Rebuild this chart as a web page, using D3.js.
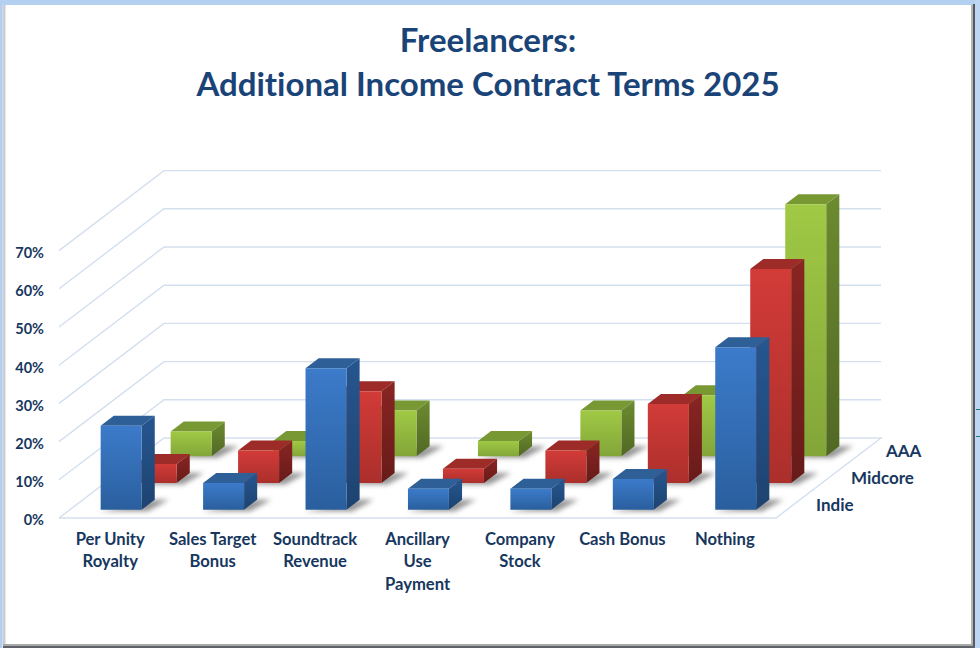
<!DOCTYPE html>
<html>
<head>
<meta charset="utf-8">
<script src="https://cdn.jsdelivr.net/npm/d3@7"></script>
<style>
  html, body { margin: 0; padding: 0; background: #fff; }
  svg { display: block; }
  text { font-family: Lato, "Open Sans", sans-serif; font-weight: 700; fill: #17375e; font-variant-ligatures: none; }
</style>
</head>
<body>
<svg width="980" height="648"></svg>
<script>
const titleLines = ['Freelancers:', 'Additional Income Contract Terms 2025'];
const categories = ['Per Unity Royalty', 'Sales Target Bonus', 'Soundtrack Revenue', 'Ancillary Use Payment', 'Company Stock', 'Cash Bonus', 'Nothing'];
const categoryLines = [['Per Unity', 'Royalty'], ['Sales Target', 'Bonus'], ['Soundtrack', 'Revenue'], ['Ancillary', 'Use', 'Payment'], ['Company', 'Stock'], ['Cash Bonus'], ['Nothing']];
const seriesNames = ['Indie', 'Midcore', 'AAA'];
const indie = [22, 7, 37, 5.5, 5.5, 8, 42.5];
const midcore = [5, 8.5, 24, 3.7, 8.5, 20.7, 56];
const aaa = [6.5, 4, 12, 4, 12, 16, 66];
const seriesValues = [indie, midcore, aaa];
const yTicks = [0, 10, 20, 30, 40, 50, 60, 70];

// front, side, top shades per series
const palette = [
  { front: ['#3c7bca', '#2a5f9e'], side: ['#265690', '#1d4370'], top: '#2e5f96' },
  { front: ['#d23b38', '#ab2f2b'], side: ['#892523', '#671b19'], top: '#9d2b28' },
  { front: ['#a0c945', '#83a539', ], side: ['#6c8b30', '#516823'], top: '#789834' }
];

const svg = d3.select('svg');
const defs = svg.append('defs');

// oblique floor: depth 0..1 shifts right and up
const floorX = 59, floorW = 717, floorY = 518, depthX = 105, depthY = 80;
const x = d3.scaleBand().domain(categories).range([floorX, floorX + floorW]).paddingInner(0.6).paddingOuter(0.3);
const depth = d3.scaleBand().domain(seriesNames).range([0, 1]).paddingInner(0.625).paddingOuter(0.3125);
const y = d3.scaleLinear().domain([0, 70]).range([floorY, 250.6]);
const proj = (px, d, v) => [px + d * depthX, y(v) - d * depthY];
const poly = pts => pts.map(p => p.join(',')).join(' ');

defs.append('filter').attr('id', 'blur').attr('x', '-30%').attr('y', '-50%').attr('width', '160%').attr('height', '200%')
  .append('feGaussianBlur').attr('stdDeviation', 2.5);

palette.forEach((p, i) => {
  ['front', 'side'].forEach(part => {
    const g = defs.append('linearGradient').attr('id', part + i).attr('x1', 0).attr('y1', 0).attr('x2', 0).attr('y2', 1);
    g.append('stop').attr('offset', 0).attr('stop-color', p[part][0]);
    g.append('stop').attr('offset', 1).attr('stop-color', p[part][1]);
  });
});

// window frame behind the chart
const frame = svg.append('g');
frame.append('rect').attr('x', 0).attr('y', 0).attr('width', 980).attr('height', 5).attr('fill', '#b3d0f0');
frame.append('rect').attr('x', 0).attr('y', 0).attr('width', 2.5).attr('height', 648).attr('fill', '#b3d0f0');
frame.append('rect').attr('x', 2.5).attr('y', 5).attr('width', 3).attr('height', 640).attr('fill', '#c9ced6');
frame.append('rect').attr('x', 975).attr('y', 0).attr('width', 5).attr('height', 648).attr('fill', '#bcd6f4');
frame.append('rect').attr('x', 971).attr('y', 5).attr('width', 2).attr('height', 643).attr('fill', '#b4b4b4');
frame.append('rect').attr('x', 973).attr('y', 4).attr('width', 2).attr('height', 644).attr('fill', '#55595f');
frame.append('rect').attr('x', 3).attr('y', 644).attr('width', 970).attr('height', 2).attr('fill', '#a9a9a9');
frame.append('rect').attr('x', 3).attr('y', 646).attr('width', 972).attr('height', 2).attr('fill', '#5f6369');
frame.selectAll('.mark').data([409, 436]).join('rect').attr('class', 'mark')
  .attr('x', 976).attr('y', d => d).attr('width', 4).attr('height', 1).attr('fill', '#1f7a72');

// title
svg.append('g').selectAll('text').data(titleLines).join('text')
  .attr('x', 488).attr('y', (d, i) => 52 + i * 44)
  .attr('text-anchor', 'middle').attr('font-size', 33)
  .style('fill', '#1a4478')
  .text(d => d);

// walls and floor grid
const grid = svg.append('g').attr('fill', 'none').attr('stroke', '#d3dfee').attr('stroke-width', 1.4);
grid.selectAll('polyline').data(yTicks).join('polyline')
  .attr('points', d => {
    if (d === 0) {
      return poly([proj(floorX, 0, 0), proj(floorX, 1, 0), proj(floorX + floorW, 1, 0), proj(floorX + floorW, 0, 0), proj(floorX, 0, 0)]);
    }
    return poly([proj(floorX, 0, d), proj(floorX, 1, d), proj(floorX + floorW, 1, d)]);
  });

// y axis
const yAxis = d3.axisLeft(y).tickValues(yTicks).tickFormat(d => d + '%').tickSize(0).tickPadding(15);
const yAxisG = svg.append('g').attr('transform', `translate(${floorX},0)`).call(yAxis);
yAxisG.select('.domain').remove();
yAxisG.selectAll('text').attr('font-size', 14.5).attr('font-family', 'Lato').attr('dy', '0.48em');

// category labels
const catG = svg.append('g').selectAll('text').data(categories).join('text')
  .attr('text-anchor', 'middle').attr('font-size', 16.6);
catG.selectAll('tspan').data((d, i) => categoryLines[i].map(line => ({ line, cat: d }))).join('tspan')
  .attr('x', d => x(d.cat) + x.bandwidth() / 2)
  .attr('y', (d, i) => 545 + i * 22.3)
  .text(d => d.line);

// series labels on the floor edge
svg.append('g').selectAll('text').data(seriesNames).join('text')
  .attr('x', d => proj(floorX + floorW, depth(d) + depth.bandwidth() / 2, 0)[0] + 22.5)
  .attr('y', d => proj(floorX + floorW, depth(d) + depth.bandwidth() / 2, 0)[1] + 6)
  .attr('font-size', 17)
  .text(d => d);

// bars, back row first so the near rows cover it
const rows = seriesNames.map((name, s) => ({ name, s })).reverse();
rows.forEach(({ name, s }) => {
  const d0 = depth(name), d1 = d0 + depth.bandwidth();
  const bars = categories.map((cat, i) => ({ cat, value: seriesValues[s][i] }));
  const row = svg.append('g');

  const w = x.bandwidth();
  row.selectAll('.shadow').data(bars).join('polygon').attr('class', 'shadow')
    .attr('points', d => {
      const a = x(d.cat);
      const p = proj(a + w, d1, 0), q = proj(a + w + 14, d1, 0), r = proj(a + w + 3, d0, 0), e = proj(a - 1, d0, 0);
      return poly([[e[0], e[1] + 1.5], [r[0] + 3, r[1] + 1.5], q, p]);
    })
    .attr('fill', '#4d4d4d').attr('opacity', 0.6).attr('filter', 'url(#blur)');

  row.selectAll('.top').data(bars).join('polygon').attr('class', 'top')
    .attr('points', d => {
      const a = x(d.cat);
      return poly([proj(a, d0, d.value), proj(a + w, d0, d.value), proj(a + w, d1, d.value), proj(a, d1, d.value)]);
    })
    .attr('fill', palette[s].top);

  row.selectAll('.side').data(bars).join('polygon').attr('class', 'side')
    .attr('points', d => {
      const a = x(d.cat) + w;
      return poly([proj(a, d0, d.value), proj(a, d1, d.value), proj(a, d1, 0), proj(a, d0, 0)]);
    })
    .attr('fill', `url(#side${s})`);

  row.selectAll('.front').data(bars).join('polygon').attr('class', 'front')
    .attr('points', d => {
      const a = x(d.cat);
      return poly([proj(a, d0, d.value), proj(a + w, d0, d.value), proj(a + w, d0, 0), proj(a, d0, 0)]);
    })
    .attr('fill', `url(#front${s})`);
});
</script>
</body>
</html>
